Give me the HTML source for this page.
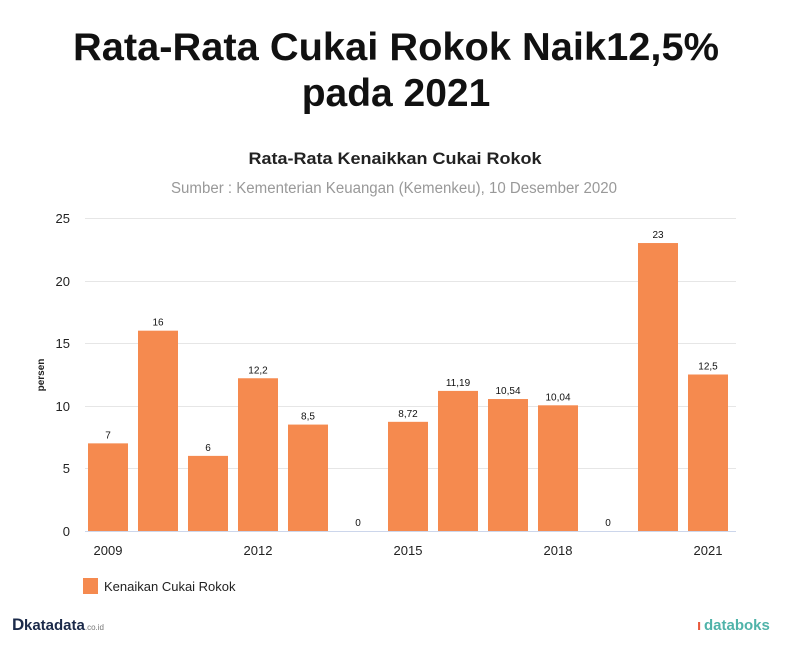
<!DOCTYPE html><html><head><style>body{margin:0;background:#fff;width:799px;height:642px;overflow:hidden;font-family:"Liberation Sans",sans-serif}</style></head><body>
<svg width="799" height="642" xmlns="http://www.w3.org/2000/svg" font-family="Liberation Sans, sans-serif">
<text x="396" y="60" text-anchor="middle" font-size="39" font-weight="bold" fill="#111" textLength="646" lengthAdjust="spacingAndGlyphs">Rata-Rata Cukai Rokok Naik12,5%</text>
<text x="396" y="106" text-anchor="middle" font-size="39" font-weight="bold" fill="#111">pada 2021</text>
<text x="395" y="164" text-anchor="middle" font-size="17" font-weight="bold" fill="#222" textLength="293" lengthAdjust="spacingAndGlyphs">Rata-Rata Kenaikkan Cukai Rokok</text>
<text x="394" y="193" text-anchor="middle" font-size="15.5" fill="#999" textLength="446" lengthAdjust="spacingAndGlyphs">Sumber : Kementerian Keuangan (Kemenkeu), 10 Desember 2020</text>
<g stroke="#e6e6e6" stroke-width="1">
<line x1="85" x2="736" y1="218.5" y2="218.5"/><line x1="85" x2="736" y1="281.5" y2="281.5"/><line x1="85" x2="736" y1="343.5" y2="343.5"/><line x1="85" x2="736" y1="406.5" y2="406.5"/><line x1="85" x2="736" y1="468.5" y2="468.5"/></g>
<line x1="85" x2="736" y1="531.5" y2="531.5" stroke="#ccd6eb"/>
<g font-size="13" fill="#222" text-anchor="end">
<text x="70" y="223">25</text><text x="70" y="286">20</text><text x="70" y="348">15</text><text x="70" y="411">10</text><text x="70" y="473">5</text><text x="70" y="536">0</text></g>
<text transform="translate(44,375) rotate(-90)" text-anchor="middle" font-size="10" font-weight="bold" fill="#222">persen</text>
<g fill="#f58a4f" id="bars"></g>
<g font-size="10" fill="#111" text-anchor="middle" id="labs"></g>
<g font-size="13" fill="#222" text-anchor="middle">
<text x="108" y="555">2009</text><text x="258" y="555">2012</text><text x="408" y="555">2015</text><text x="558" y="555">2018</text><text x="708" y="555">2021</text></g>
<rect x="83" y="578" width="15" height="16" fill="#f58a4f"/>
<text x="104" y="591" font-size="13" fill="#222">Kenaikan Cukai Rokok</text>
<text x="12" y="630" font-size="17" font-weight="bold" fill="#1b2a4a">D</text>
<text x="24" y="630" font-size="15" font-weight="bold" fill="#1b2a4a">katadata<tspan font-size="8" font-weight="normal" fill="#777">.co.id</tspan></text>
<text x="697" y="630" font-size="15" font-weight="bold" fill="#e8593c">ı</text>
<text x="704" y="630" font-size="15" font-weight="bold" fill="#4fb3a9">databoks</text>
</svg>
<script>
var v=[7,16,6,12.2,8.5,0,8.72,11.19,10.54,10.04,0,23,12.5],b=document.getElementById('bars'),l=document.getElementById('labs'),ns="http://www.w3.org/2000/svg";
v.forEach(function(d,i){var c=108+50*i,h=d*12.52,r=document.createElementNS(ns,'rect');r.setAttribute('x',c-20);r.setAttribute('width',40);r.setAttribute('y',531-h);r.setAttribute('height',h);b.appendChild(r);
var t=document.createElementNS(ns,'text');t.setAttribute('x',c);t.setAttribute('y',531-h-5);t.textContent=String(d).replace('.',',');l.appendChild(t);});
</script></body></html>
